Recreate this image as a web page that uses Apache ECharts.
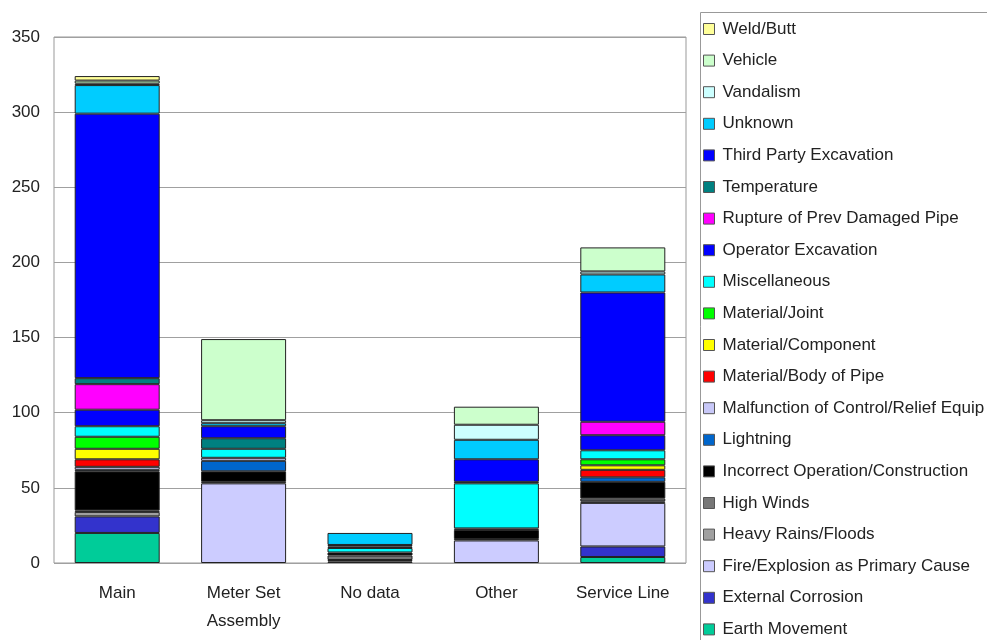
<!DOCTYPE html>
<html>
<head>
<meta charset="utf-8">
<script src="https://cdn.jsdelivr.net/npm/echarts@6/dist/echarts.min.js"></script>
<style>
  html, body { margin: 0; padding: 0; background: #fff; }
  #chart { width: 987px; height: 640px; }
</style>
</head>
<body>
<div id="chart"></div>
<script>
// categories on the x axis
const categories = ["Main", "Meter Set\nAssembly", "No data", "Other", "Service Line"];

// causes, bottom of the stack first
const causes = [
  "Earth Movement",
  "External Corrosion",
  "Fire/Explosion as Primary Cause",
  "Heavy Rains/Floods",
  "High Winds",
  "Incorrect Operation/Construction",
  "Lightning",
  "Malfunction of Control/Relief Equip",
  "Material/Body of Pipe",
  "Material/Component",
  "Material/Joint",
  "Miscellaneous",
  "Operator Excavation",
  "Rupture of Prev Damaged Pipe",
  "Temperature",
  "Third Party Excavation",
  "Unknown",
  "Vandalism",
  "Vehicle",
  "Weld/Butt"
];

// counts per cause: [Main, Meter Set Assembly, No data, Other, Service Line]
const earthMovement   = [20, 0, 0, 0, 4];
const extCorrosion    = [11, 0, 1, 0, 7];
const fireExplosion   = [0, 53, 0, 15, 29];
const heavyRains      = [3, 0, 1, 0, 1];
const highWinds       = [1, 1, 3, 1, 2];
const incorrectOp     = [26, 7, 2, 6, 11];
const lightning       = [1, 7, 0, 0, 3];
const malfunction     = [2, 2, 0, 1, 0];
const materialBody    = [5, 0, 0, 0, 5];
const materialComp    = [7, 0, 0, 0, 3];
const materialJoint   = [8, 0, 0, 0, 4];
const miscellaneous   = [7, 6, 3, 30, 6];
const operatorExc     = [11, 0, 1, 0, 10];
const rupture         = [17, 0, 0, 0, 9];
const temperature     = [4, 7, 1, 1, 0];
const thirdParty      = [176, 8, 0, 15, 86];
const unknown         = [19, 2, 8, 13, 12];
const vandalism       = [1, 2, 0, 10, 2];
const vehicle         = [2, 54, 0, 12, 16];
const weldButt        = [3, 0, 0, 0, 0];

const values = [earthMovement, extCorrosion, fireExplosion, heavyRains, highWinds,
  incorrectOp, lightning, malfunction, materialBody, materialComp, materialJoint,
  miscellaneous, operatorExc, rupture, temperature, thirdParty, unknown,
  vandalism, vehicle, weldButt];

const colors = ["#00CC99", "#3333CC", "#CCCCFF", "#A0A0A0", "#777777",
  "#000000", "#0066CC", "#C8C8F8", "#FF0000", "#FFFF00", "#00FF00",
  "#00FFFF", "#0000FF", "#FF00FF", "#008080", "#0000FF", "#00CCFF",
  "#CCFFFF", "#CCFFCC", "#FFFF99"];

const yTicks = { min: 0, max: 350, interval: 50 };

var series = [];
for (var i = 0; i < causes.length; i++) {
  series.push({
    name: causes[i],
    type: "bar",
    stack: "total",
    barWidth: 85,
    // empty segments are left out so they draw no border line
    data: values[i].map(function (v) { return v === 0 ? "-" : v; }),
    itemStyle: {
      color: colors[i],
      borderColor: "#222",
      borderWidth: 1
    },
    emphasis: { disabled: true }
  });
}

const myChart = echarts.init(document.getElementById("chart"));
var option = {
  animation: false,
  textStyle: { fontFamily: "Liberation Sans, Arial, sans-serif" },
  grid: {
    show: true,
    borderColor: "#999",
    borderWidth: 1,
    left: 54,
    top: 37,
    right: 301,
    bottom: 77
  },
  graphic: [
    {
      type: "rect",
      left: 698,
      top: 10,
      shape: { width: 300, height: 640 },
      style: { fill: "none", stroke: "#999", lineWidth: 1 }
    }
  ],
  legend: {
    orient: "vertical",
    left: 703,
    top: 19,
    padding: 0,
    icon: "rect",
    itemWidth: 11,
    itemHeight: 11,
    itemGap: 11.6,
    selectedMode: false,
    data: causes.slice().reverse(),
    itemStyle: { borderColor: "#555", borderWidth: 1 },
    textStyle: {
      fontFamily: "Liberation Sans, Arial, sans-serif",
      fontSize: 17,
      color: "#222",
      lineHeight: 20,
      padding: [0, 0, 0, 3]
    }
  },
  xAxis: {
    type: "category",
    data: categories,
    axisLine: { show: false },
    axisTick: { show: false },
    axisLabel: {
      fontSize: 17,
      color: "#222",
      margin: 16,
      lineHeight: 28,
      interval: 0
    }
  },
  yAxis: {
    type: "value",
    min: yTicks.min,
    max: yTicks.max,
    interval: yTicks.interval,
    axisLine: { show: false },
    axisTick: { show: false },
    axisLabel: { fontSize: 17, color: "#222", margin: 14 },
    splitLine: { lineStyle: { color: "#A0A0A0", width: 1 } }
  },
  series: series
};
myChart.setOption(option);
</script>
</body>
</html>
